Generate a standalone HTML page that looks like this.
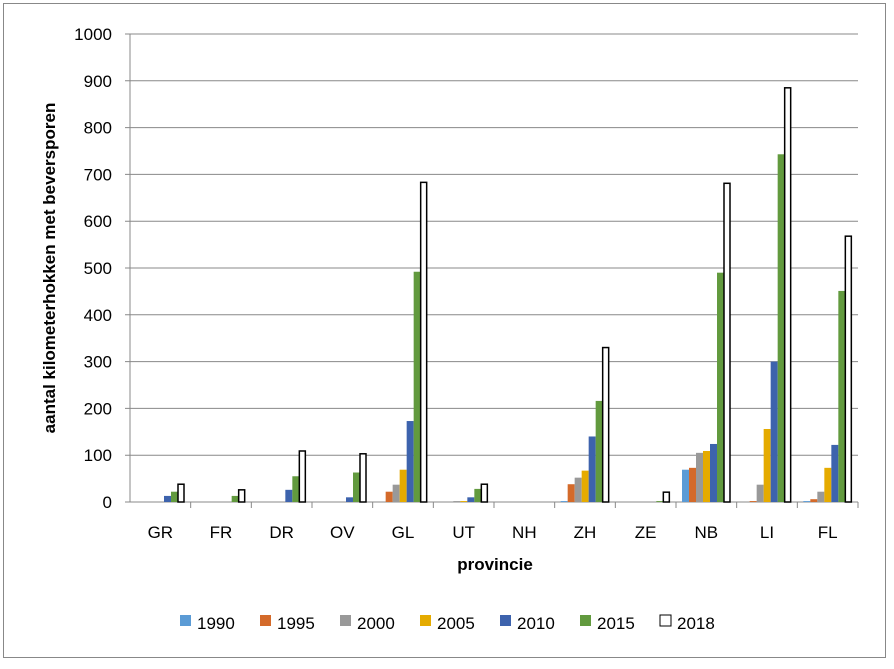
<!DOCTYPE html>
<html><head><style>
body{margin:0;background:#fff;font-family:"Liberation Sans",sans-serif;}
svg text{font-family:"Liberation Sans",sans-serif;}
</style></head><body>
<svg width="894" height="664" xmlns="http://www.w3.org/2000/svg">
<rect x="3.5" y="3.5" width="882" height="654" fill="#fff" stroke="#888"/>
<g id="grid"></g><g id="bars"></g><g id="axes"></g><g id="legend"></g>
<text x="495" y="570" font-size="17" font-weight="bold" text-anchor="middle">provincie</text>
<text transform="translate(55,268) rotate(-90)" font-size="17" font-weight="bold" text-anchor="middle">aantal kilometerhokken met beversporen</text>
</svg>
<script>
const categories=["GR","FR","DR","OV","GL","UT","NH","ZH","ZE","NB","LI","FL"];
const seriesNames=["1990","1995","2000","2005","2010","2015","2018"];
const colors=["#5b9bd5","#d46a2a","#999999","#e5ab00","#3d63ad","#629a3e","#ffffff"];
const v1990=[0,0,0,0,0,0,0,2,0,69,0,2];
const v1995=[0,0,0,0,22,0,0,38,0,73,2,6];
const v2000=[0,0,0,0,37,2,0,52,0,105,37,22];
const v2005=[0,0,0,0,69,2,0,67,0,109,156,73];
const v2010=[13,0,26,10,173,10,0,140,0,124,300,122];
const v2015=[22,13,55,63,492,28,0,216,2,490,743,451];
const v2018=[38,26,109,103,683,38,0,330,21,681,885,568];
const yTicks=[0,100,200,300,400,500,600,700,800,900,1000];
const series=[v1990,v1995,v2000,v2005,v2010,v2015,v2018];
const NS="http://www.w3.org/2000/svg";
const X0=130,X1=858,Y0=502,Y1=34,YMAX=1000;
const cw=(X1-X0)/categories.length, bw=7;
const y=v=>Y0-(v/YMAX)*(Y0-Y1);
function mk(t,a,p){const e=document.createElementNS(NS,t);for(const k in a)e.setAttribute(k,a[k]);p.appendChild(e);return e;}
const grid=document.getElementById('grid'),bars=document.getElementById('bars'),axes=document.getElementById('axes'),leg=document.getElementById('legend');
yTicks.forEach(t=>{
 const l=mk('line',{x1:X0-5,x2:X1,y1:y(t),y2:y(t),stroke:'#888','stroke-width':1},grid);
 
 
 const tx=mk('text',{x:112,y:y(t)+6,'font-size':17,'text-anchor':'end'},axes);
 tx.textContent=t;
 
 
});
mk('line',{x1:X0,x2:X0,y1:Y1,y2:Y0,stroke:'#888'},axes);
categories.forEach((c,i)=>{
 const cx=X0+i*cw;
 mk('line',{x1:cx+cw,x2:cx+cw,y1:Y0,y2:Y0+6,stroke:'#888'},axes);
 const tx=mk('text',{x:cx+cw/2,y:538,'font-size':17,'text-anchor':'middle'},axes);
 tx.textContent=c;
 
 
 series.forEach((s,j)=>{
  const v=s[i]; if(v<=0) return;
  const r=mk('rect',{x:cx+6+j*bw,y:y(v),width:bw,height:Y0-y(v),fill:colors[j]},bars);
  if(j===6){r.setAttribute('stroke','#000');r.setAttribute('stroke-width','1.5');r.setAttribute('width',bw-1);}
  
  
 });
});
seriesNames.forEach((n,j)=>{
 const lx=180+j*80;
 const r=mk('rect',{x:lx,y:615,width:11,height:11,fill:colors[j],stroke:j===6?'#000':'none'},leg);
 
 
 const t=mk('text',{x:lx+17,y:629,'font-size':17},leg);
 t.textContent=n;
 
 
});
</script>
</body></html>
